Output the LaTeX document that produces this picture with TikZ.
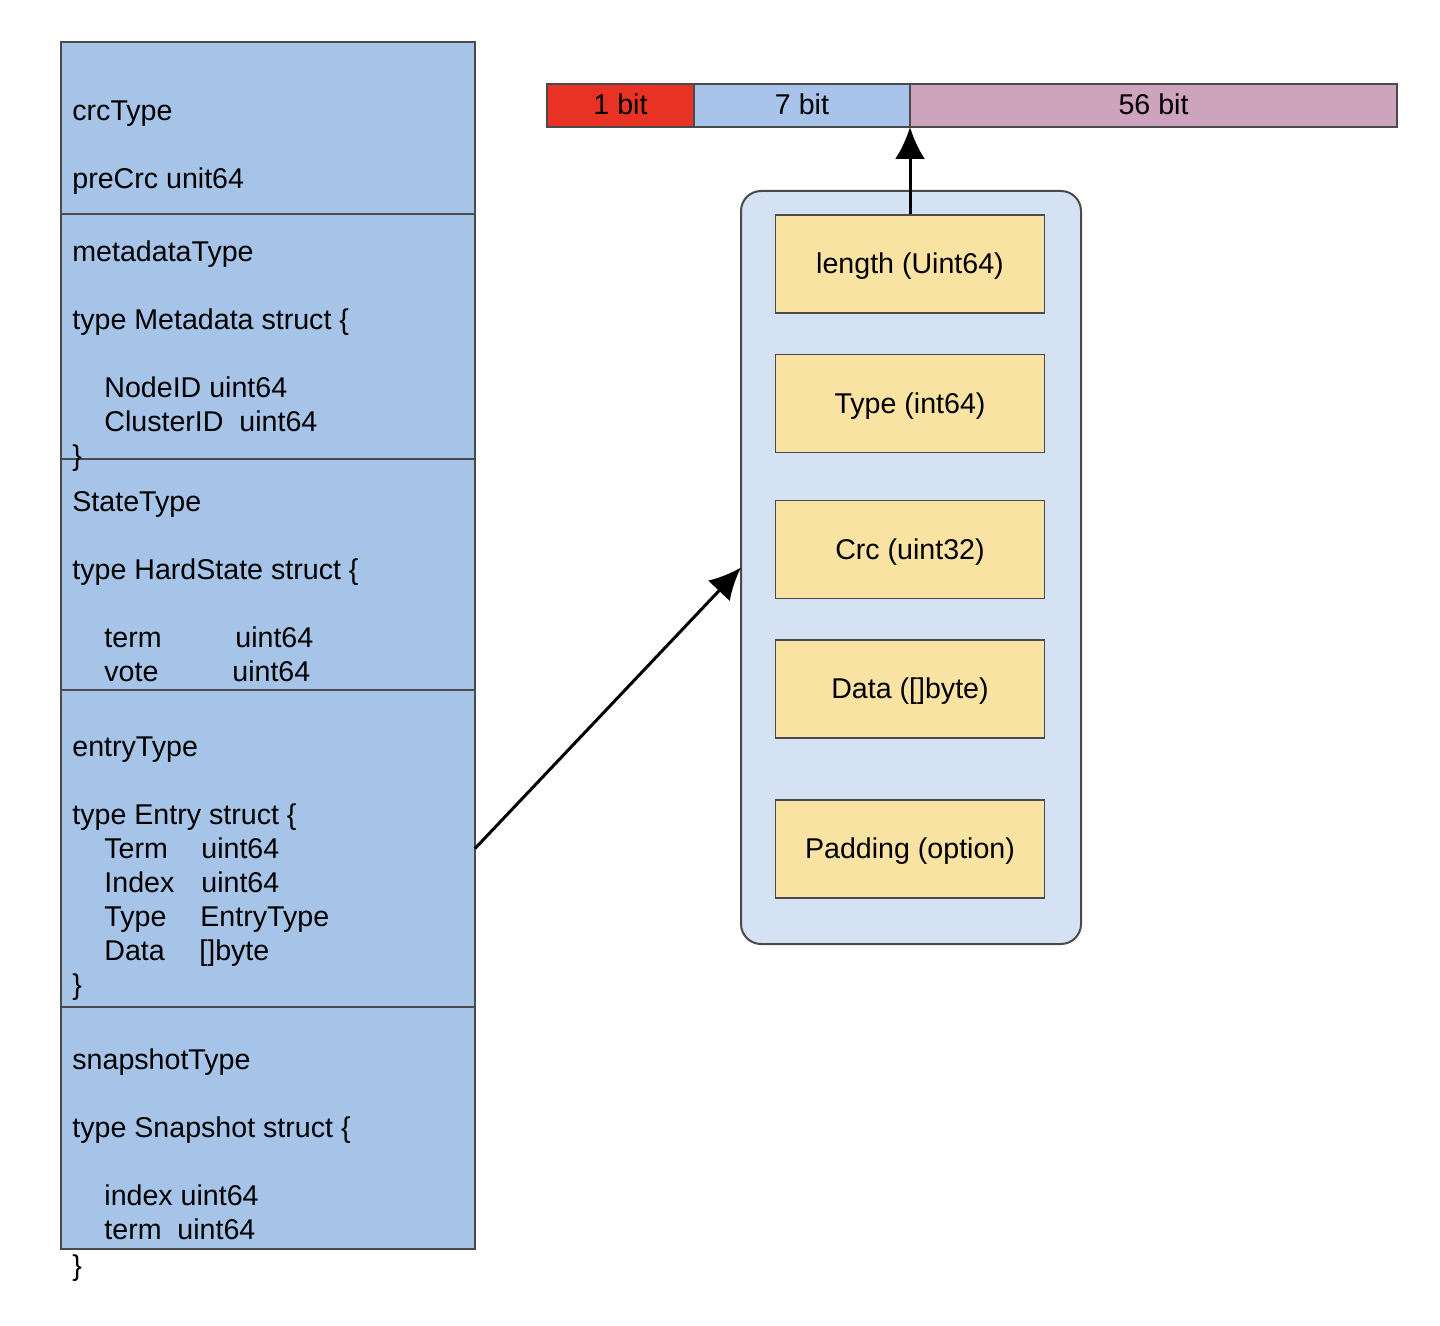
\documentclass[tikz,border=0pt]{standalone}
\usepackage{fontspec}
\setmainfont{Liberation Sans}
\usepackage{tikz}
\usetikzlibrary{arrows.meta}
\usetikzlibrary{positioning}

\definecolor{fieldblue}{HTML}{A6C4E7}
\definecolor{framblue}{HTML}{D4E2F3}
\definecolor{partyellow}{HTML}{F9E3A3}
\definecolor{bitred}{HTML}{E83224}
\definecolor{bitblue}{HTML}{A9C4EB}
\definecolor{bitpink}{HTML}{CDA3BE}
\definecolor{edgegrey}{HTML}{4A4A4A}

\begin{document}
\begin{tikzpicture}
	[x=0.5pt,y=-0.5pt,
	 every node/.style={font=\fontsize{14.3}{17}\selectfont},
	 field/.style={draw=edgegrey, line width=1.1pt, fill=fieldblue, inner sep=0pt, outer sep=0pt, minimum width=207pt},
	 txt/.style={anchor=west, inner sep=0pt, text height=0.72em, text depth=0.21em, yshift=-2.5pt},
	 bitcell/.style={draw=edgegrey, line width=0.8pt, inner sep=0pt, outer sep=0pt, minimum height=21.5pt, text depth=0.1em},
	 part/.style={draw=edgegrey, line width=0.8pt, fill=partyellow, minimum width=134.5pt, minimum height=49pt, text depth=0.05em},
	 arr/.style={line width=1.5pt, -{Latex[length=16pt,width=15pt]}}]
	\useasboundingbox (0,0) rectangle (1440,1326);

	% left column: record types
	\node[field, anchor=north west, minimum height=86pt] (crc) at (61,42) {};
	\node[field, below=0pt of crc, minimum height=122.5pt] (meta) {};
	\node[field, below=0pt of meta, minimum height=115.5pt] (state) {};
	\node[field, below=0pt of state, minimum height=158.5pt] (entry) {};
	\node[field, below=0pt of entry, minimum height=121pt] (snap) {};

	\foreach \y/\x/\t [count=\i] in {110/72/{crcType}, 178/72/{preCrc unit64}}
		\node[txt] (crc-t\i) at (\x,\y) {\t};
	\foreach \y/\x/\t [count=\i] in {251/72/{metadataType}, 319/72/{type Metadata struct \{},
		387/104/{NodeID uint64}, 421/104/{ClusterID\ \ uint64}, 455/72/{\}}}
		\node[txt] (meta-t\i) at (\x,\y) {\t};
	\foreach \y/\x/\t [count=\i] in {501/72/{StateType}, 569/72/{type HardState struct \{},
		637/104/{\makebox[65.5pt][l]{term}uint64}, 671/104/{\makebox[64pt][l]{vote}uint64}}
		\node[txt] (state-t\i) at (\x,\y) {\t};
	\foreach \y/\x/\t [count=\i] in {746/72/{entryType}, 814/72/{type Entry struct \{},
		848/104/{\makebox[48.5pt][l]{Term}uint64}, 882/104/{\makebox[48.5pt][l]{Index}uint64},
		916/104/{\makebox[48pt][l]{Type}EntryType}, 950/104/{\makebox[47.5pt][l]{Data}[]byte},
		984/72/{\}}}
		\node[txt] (entry-t\i) at (\x,\y) {\t};
	\foreach \y/\x/\t [count=\i] in {1059/72/{snapshotType}, 1127/72/{type Snapshot struct \{},
		1195/104/{index uint64}, 1229/104/{term\ \ uint64}, 1265/72/{\}}}
		\node[txt] (snap-t\i) at (\x,\y) {\t};

	% bit layout
	\node[bitcell, fill=bitred, anchor=north west, minimum width=73.5pt] (b1) at (547,84) {1 bit};
	\node[bitcell, fill=bitblue, right=0pt of b1, minimum width=108pt] (b7) {7 bit};
	\node[bitcell, fill=bitpink, right=0pt of b7, minimum width=243.5pt] (b56) {56 bit};

	% entry record
	\node[draw=edgegrey, line width=1pt, fill=framblue, rounded corners=10pt, anchor=north west,
		minimum width=170pt, minimum height=376.5pt, inner sep=0pt, outer sep=0pt] (frame) at (741,191) {};
	\foreach \y/\t/\n in {264/{length (Uint64)}/len, 403.5/{Type (int64)}/typ, 549.5/{Crc (uint32)}/crcf,
		689/{Data ([]byte)}/dat, 849/{Padding (option)}/pad}
		\node[part] (\n) at (910,\y) {\t};

	\draw[arr] (len.north) -- (b7.south east);
	\draw[arr] (entry.east) -- (frame.west);
\end{tikzpicture}
\end{document}
